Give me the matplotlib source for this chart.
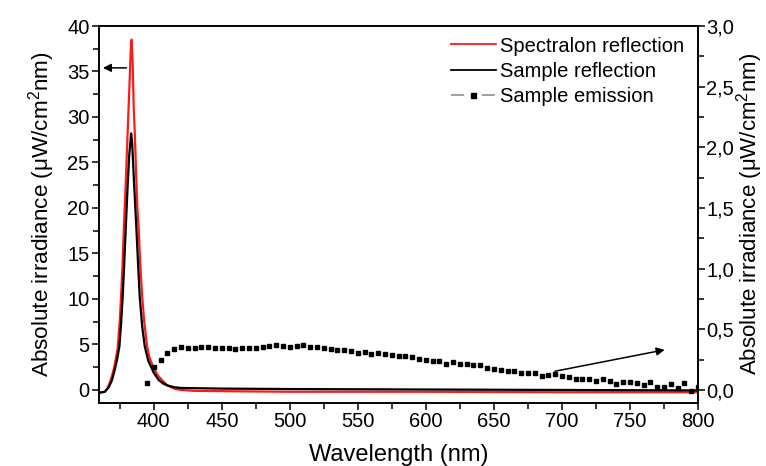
import matplotlib
matplotlib.use("Agg")
import matplotlib.pyplot as plt
from matplotlib.lines import Line2D
from matplotlib.ticker import MultipleLocator, FuncFormatter

plt.rcParams['font.family'] = ['Liberation Sans', 'DejaVu Sans']
plt.rcParams['mathtext.fontset'] = 'custom'
plt.rcParams['mathtext.rm'] = 'Liberation Sans'
plt.rcParams['mathtext.it'] = 'Liberation Sans'

# Spectralon reflection (left axis)
wl_spec = [360, 364, 366, 368.2, 370.5, 372, 373.5, 375, 376, 377, 378, 379.5, 380.9, 382.3, 383.1,
           383.7, 384.5, 385.3, 386, 387, 388, 389, 390, 391.5, 393, 395.1, 397, 400, 403, 406,
           410, 415, 420, 430, 500, 600, 700, 800]
spec = [-0.3, -0.2, 0.2, 1.0, 2.2, 3.3, 4.6, 7.5, 10.3, 13.5, 17.6, 23, 28.6, 34, 37.3,
        38.5, 36, 31, 28.6, 24, 20, 17.6, 14, 10.3, 7.5, 4.8, 3.5, 2.4, 1.6, 1.1,
        0.5, 0.15, 0.0, -0.1, -0.2, -0.2, -0.25, -0.25]

# Sample reflection (left axis)
wl_samp = [360, 364, 367, 369.4, 371, 373, 374.8, 376, 377.2, 378.3, 379.4, 380.7, 382, 383.4,
           384.2, 385.3, 386.3, 387.3, 388.5, 389.7, 391.5, 393.4, 396, 400, 403.6, 407,
           410, 415, 420, 450, 500, 600, 700, 800]
samp = [-0.3, -0.2, 0.3, 1.1, 2.0, 3.3, 4.8, 7.3, 10.3, 13.8, 17.6, 22, 25.8, 28.2,
        27, 23.5, 20.5, 17.6, 13.8, 10.3, 7.0, 4.8, 3.2, 1.9, 1.1, 0.7,
        0.5, 0.3, 0.22, 0.15, 0.1, 0.05, 0.0, -0.05]

# Sample emission (right axis)
wl_em = [395, 400, 405, 410, 415, 420, 425, 430, 435, 440, 445, 450, 455, 460, 465,
         470, 475, 480, 485, 490, 495, 500, 505, 510, 515, 520, 525, 530, 535, 540,
         545, 550, 555, 560, 565, 570, 575, 580, 585, 590, 595, 600, 605, 610, 615,
         620, 625, 630, 635, 640, 645, 650, 655, 660, 665, 670, 675, 680, 685, 690,
         695, 700, 705, 710, 715, 720, 725, 730, 735, 740, 745, 750, 755, 760, 765,
         770, 775, 780, 785, 790, 795, 800]
em = [0.06, 0.187, 0.247, 0.307, 0.335, 0.352, 0.344, 0.349, 0.352, 0.352, 0.346, 0.349, 0.349, 0.335, 0.344,
      0.346, 0.349, 0.357, 0.363, 0.368, 0.363, 0.357, 0.36, 0.371, 0.355, 0.355, 0.349, 0.34, 0.33, 0.33,
      0.322, 0.308, 0.31, 0.294, 0.302, 0.294, 0.286, 0.28, 0.283, 0.275, 0.253, 0.245, 0.242, 0.242, 0.214,
      0.233, 0.212, 0.212, 0.209, 0.206, 0.179, 0.173, 0.165, 0.157, 0.154, 0.143, 0.14, 0.138, 0.118, 0.12,
      0.132, 0.118, 0.11, 0.09, 0.09, 0.088, 0.074, 0.09, 0.077, 0.049, 0.063, 0.069, 0.06, 0.041, 0.069,
      0.027, 0.022, 0.047, 0.019, 0.06, -0.008, 0.027]

left_ticks = [0, 5, 10, 15, 20, 25, 30, 35, 40]
right_ticks = [0.0, 0.5, 1.0, 1.5, 2.0, 2.5, 3.0]
x_ticks = [400, 450, 500, 550, 600, 650, 700, 750, 800]

fig = plt.figure(figsize=(7.66, 4.66), dpi=100)
ax = fig.add_axes([99.3/766, 1-402.7/466, (698-99.3)/766, (402.7-26)/466])
ax2 = ax.twinx()

ax.plot(wl_spec, spec, color='#ff1a1a', lw=1.6, label='Spectralon reflection', zorder=3)
ax.plot(wl_samp, samp, color='black', lw=1.6, label='Sample reflection', zorder=4)
ax2.plot(wl_em, em, linestyle='none', marker='s', markersize=3.4, color='black')

ax.set_xlim(360, 800)
ax.set_ylim(-1.4, 40)
ax2.set_ylim(-0.105, 3.0)

ax.set_xticks(x_ticks)
ax.set_yticks(left_ticks)
ax2.set_yticks(right_ticks)
ax.xaxis.set_minor_locator(MultipleLocator(25))
ax.yaxis.set_minor_locator(MultipleLocator(2.5))
ax2.yaxis.set_minor_locator(MultipleLocator(0.25))
ax2.yaxis.set_major_formatter(FuncFormatter(lambda v, p: f"{v:.1f}".replace('.', ',')))

for a in (ax, ax2):
    for s in a.spines.values():
        s.set_linewidth(1.2)
    a.tick_params(which='major', direction='out', length=5, width=1.1, labelsize=14.5, pad=2)
    a.tick_params(which='minor', direction='out', length=4, width=1.1)
ax.tick_params(axis='y', which='both', right=False)
ax.tick_params(axis='x', which='both', top=False)
ax2.tick_params(axis='y', which='major', pad=1)

ax.set_xlabel('Wavelength (nm)', fontsize=17, labelpad=9)
ax.set_ylabel('Absolute irradiance (μW/cm$^2$nm)', fontsize=16.2, labelpad=7)
ax2.set_ylabel('Absolute irradiance (μW/cm$^2$nm)', fontsize=16, labelpad=0)

# arrows
ax.annotate('', xy=(360.6, 35.4), xytext=(382, 35.4),
            arrowprops=dict(arrowstyle='-|>', color='black', lw=1.1, mutation_scale=12))
ax.annotate('', xy=(777.5, 4.47), xytext=(692.9, 2.0),
            arrowprops=dict(arrowstyle='-|>', color='black', lw=1.1, mutation_scale=12))

handles = [Line2D([], [], color='#ff1a1a', lw=1.3),
           Line2D([], [], color='black', lw=1.3),
           Line2D([], [], color='#999999', lw=1.3, dashes=(7.2, 9.9),
                  marker='s', markersize=3.6, markerfacecolor='black', markeredgecolor='black')]
labels = ['Spectralon reflection', 'Sample reflection', 'Sample emission']
ax2.legend(handles, labels, loc='upper left', bbox_to_anchor=(0.588, 0.972),
           frameon=False, fontsize=14.5, handlelength=2.2, handletextpad=0.2,
           labelspacing=0.3, borderpad=0, borderaxespad=0)

fig.savefig('out.png', dpi=100)
